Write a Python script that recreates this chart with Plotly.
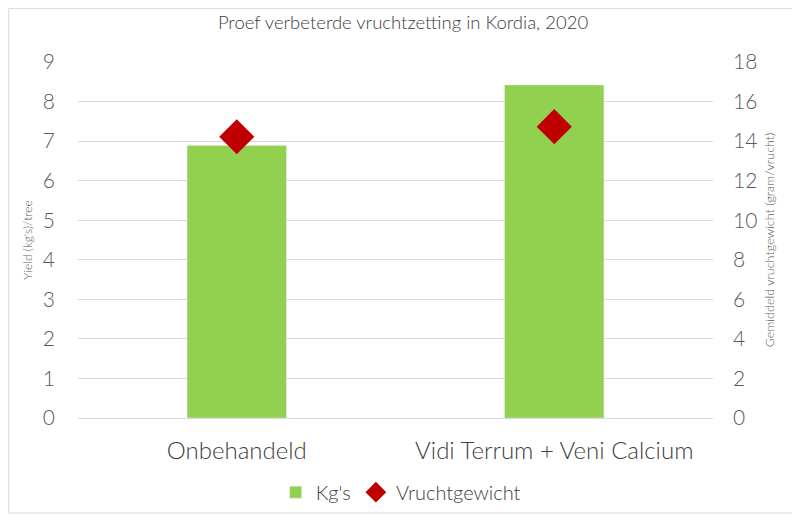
import plotly.graph_objects as go

behandelingen = ["Onbehandeld", "Vidi Terrum + Veni Calcium"]
kgs = [6.89, 8.42]
vruchtgewicht = [14.22, 14.73]

fnt = "Lato, Open Sans, sans-serif"

fig = go.Figure()
fig.add_trace(go.Bar(x=behandelingen, y=kgs, name="Kg's", marker_color="#92d050",
                     width=0.313, yaxis="y"))
fig.add_trace(go.Scatter(x=behandelingen, y=vruchtgewicht, name="Vruchtgewicht", mode="markers",
                         marker=dict(symbol="diamond", size=27, color="#c00000"), yaxis="y2"))

fig.update_layout(
    width=790, height=507,
    paper_bgcolor="white", plot_bgcolor="white",
    margin=dict(l=70, r=85, t=54, b=97, autoexpand=False),
    font=dict(family=fnt, color="#595959", weight=300),
    title=dict(text="Proef verbeterde vruchtzetting in Kordia, 2020", x=0.5, xanchor="center",
               y=0.972, yanchor="middle", font=dict(size=18.5, color="#404040", weight=300)),
    xaxis=dict(tickfont=dict(size=24, color="#404040", weight=300), showline=True, linecolor="#d9d9d9",
               ticks="", showgrid=False, ticklabelstandoff=11, automargin=False),
    yaxis=dict(range=[0, 9], dtick=1, gridcolor="#d9d9d9", tickfont=dict(size=21, weight=300),
               title=dict(text="Yield (kg's)/tree", font=dict(size=12), standoff=7),
               zeroline=False, ticklabelstandoff=22, automargin=False),
    yaxis2=dict(range=[0, 18], dtick=2, overlaying="y", side="right", showgrid=False,
                tickfont=dict(size=21, weight=300), zeroline=False, ticklabelstandoff=19,
                automargin=False,
                title=dict(text="Gemiddeld vruchtgewicht (gram/vrucht)", font=dict(size=12.5), standoff=8)),
    legend=dict(orientation="h", xref="container", x=0.497, xanchor="center",
                yref="container", y=0.045, yanchor="middle", itemwidth=30,
                font=dict(size=20, color="#404040", weight=300)),
    showlegend=True,
)

# grijze rand om de hele grafiek
fig.add_shape(type="rect", xref="paper", yref="paper", x0=-0.109, x1=1.129, y0=-0.267, y1=1.15,
              line=dict(color="#d9d9d9", width=1), layer="below")

fig.write_html("out.html")
